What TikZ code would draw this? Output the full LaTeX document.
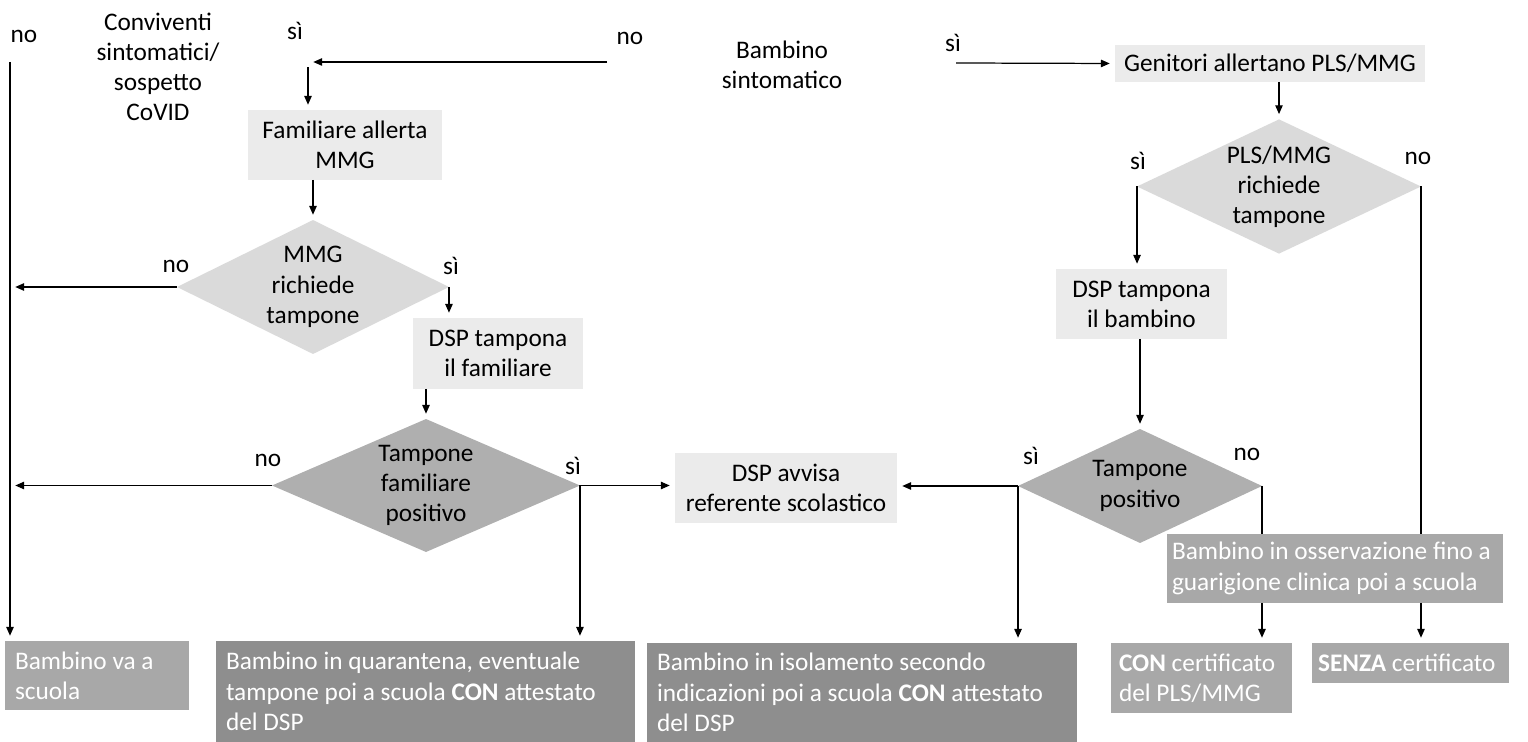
\documentclass[tikz,border=0pt]{standalone}
\usepackage{fontspec}
\setmainfont{Carlito}
\usetikzlibrary{arrows.meta,shapes.geometric,calc}
\definecolor{boxlight}{HTML}{EBEBEB}
\definecolor{diamlight}{HTML}{DADADA}
\definecolor{diamdark}{HTML}{AFAFAF}
\definecolor{outmidfill}{HTML}{A8A8A8}
\definecolor{outdarkfill}{HTML}{8E8E8E}

\begin{document}
\begin{tikzpicture}[
  x=0.02cm, y=-0.02cm,
  font=\fontsize{14.4}{17.2}\selectfont,
  act/.style={
    fill=boxlight, inner sep=0pt, outer sep=0pt, align=center},
  ask/.style={
    diamond, aspect=2, fill=diamlight, inner sep=0pt, outer sep=0pt,
    align=center},
  test/.style={ask, fill=diamdark},
  outmid/.style={
    fill=outmidfill, text=white, inner xsep=0.2cm, inner ysep=0pt,
    outer sep=0pt, align=flush left},
  outdark/.style={outmid, fill=outdarkfill},
  arr/.style={-{Triangle[length=5pt, width=4.2pt]}, line width=0.7pt,
              shorten >=3pt},
  wire/.style={line width=0.7pt},
  lbl/.style={anchor=base, inner sep=0pt},
]
\useasboundingbox (0,0) rectangle (1528,742);

% ================= entry questions =================================
\node[inner sep=0pt, align=center] (conv) at (158,67)
  {Conviventi\\sintomatici/\\sospetto\\CoVID};
\node[inner sep=0pt, align=center] (sympt) at (782,64.5)
  {Bambino\\sintomatico};

\coordinate (railtop) at (10,62);
\coordinate (nostart) at (607,62);
\coordinate (famturn) at (308,62);
\coordinate (sistart) at (956,63);

\node[lbl] (lno1) at (24,43) {no};
\node[lbl] (lsi1) at (295,40) {sì};
\node[lbl] (lno2) at (630,45) {no};
\node[lbl] (lsi2) at (953,52) {sì};

% ================= familiare branch ================================
\node[act, minimum width=3.88cm, minimum height=1.4cm] (famalert) at (345,145)
  {Familiare allerta\\MMG};
\node[ask, minimum width=5.44cm, minimum height=2.68cm] (mmg) at (313,287)
  {MMG\\richiede\\tampone};
\node[act, minimum width=3.4cm, minimum height=1.42cm] (dspfam) at (498,353.5)
  {DSP tampona\\il familiare};
\node[test, minimum width=6.16cm, minimum height=2.66cm] (tfp) at (426,485.5)
  {Tampone\\familiare\\positivo};
\node[act, minimum width=4.44cm, minimum height=1.4cm] (dspavv) at (786,488)
  {DSP avvisa\\referente scolastico};

\node[lbl] (lno3) at (176,273) {no};
\node[lbl] (lsi3) at (451,275) {sì};
\node[lbl] (lno4) at (268,467) {no};
\node[lbl] (lsi4) at (573,475) {sì};

% ================= bambino branch ==================================
\node[act, minimum width=6.2cm, minimum height=0.74cm] (genit) at (1270,63.5)
  {Genitori allertano PLS/MMG};
\node[ask, minimum width=5.68cm, minimum height=2.34cm] (pls) at (1279,186.5)
  {PLS/MMG\\richiede\\tampone};
\node[act, minimum width=3.42cm, minimum height=1.4cm] (dspbam) at (1141.5,304)
  {DSP tampona\\il bambino};
\node[test, minimum width=4.88cm, minimum height=2.28cm] (tp) at (1140,486)
  {Tampone\\positivo};

\node[lbl] (lsi5) at (1138,170) {sì};
\node[lbl] (lno5) at (1418,165) {no};
\node[lbl] (lsi6) at (1031,465) {sì};
\node[lbl] (lno6) at (1247,461) {no};

% ================= outcomes ========================================
\node[outmid, minimum width=3.68cm, minimum height=1.38cm, text width=3.28cm]
  (scuola) at (97,675.5) {Bambino va a\\scuola};
\node[outdark, minimum width=8.38cm, minimum height=2.02cm, text width=7.98cm]
  (quar) at (425.5,691.5)
  {Bambino in quarantena, eventuale\\tampone poi a scuola \textbf{CON} attestato\\del DSP};
\node[outdark, minimum width=8.6cm, minimum height=1.98cm, text width=8.2cm]
  (isol) at (862,692.5)
  {Bambino in isolamento secondo\\indicazioni poi a scuola \textbf{CON} attestato\\del DSP};
\node[outmid, minimum width=6.72cm, minimum height=1.38cm, text width=6.52cm,
  inner xsep=0.1cm] (osserv) at (1335,568.5)
  {Bambino in osservazione fino a\\guarigione clinica poi a scuola};
\node[outmid, minimum width=3.62cm, minimum height=1.4cm, text width=3.3cm,
  inner xsep=0.16cm] (con) at (1201.5,678)
  {\textbf{CON} certificato\\del PLS/MMG};
\node[outmid, minimum width=3.94cm, minimum height=0.8cm, text width=3.7cm,
  inner xsep=0.12cm] (senza) at (1410.5,663)
  {\textbf{SENZA} certificato};

% ================= connectors ======================================
% left rail: child goes to school
\draw[arr] (railtop) -- (railtop |- scuola.north);
\draw[arr] (mmg.west) -- (mmg.west -| railtop);
\draw[arr] (tfp.west) -- (tfp.west -| railtop);

% symptomatic family member
\draw[arr] (nostart) -- (famturn);
\draw[arr] ([yshift=-3pt]famturn) -- (famturn |- famalert.north);
\draw[arr] (mmg.north |- famalert.south) -- (mmg.north);
\draw[arr] (mmg.east) -- (mmg.east |- dspfam.north);
\draw[arr] (tfp.north |- dspfam.south) -- (tfp.north);
\draw[arr] (tfp.east) -- (tfp.east -| dspavv.west);
\draw[arr] (tfp.east) -- (tfp.east |- quar.north);

% symptomatic child
\draw[arr] (sistart) -- (genit.west);
\draw[arr] (pls.north |- genit.south) -- (pls.north);
\draw[arr] (pls.west) -- (pls.west |- dspbam.north);
\draw[wire] (pls.east) -- (pls.east |- osserv.north);
\draw[arr] (tp.north |- dspbam.south) -- (tp.north);
\draw[arr] (tp.west) -- (tp.west -| dspavv.east);
\draw[arr] (tp.west) -- (tp.west |- isol.north);
\draw[wire] (tp.east) -- (tp.east |- osserv.north);
\draw[arr] (tp.east |- osserv.south) -- (tp.east |- con.north);
\draw[arr] (pls.east |- osserv.south) -- (pls.east |- senza.north);

\end{tikzpicture}
\end{document}
